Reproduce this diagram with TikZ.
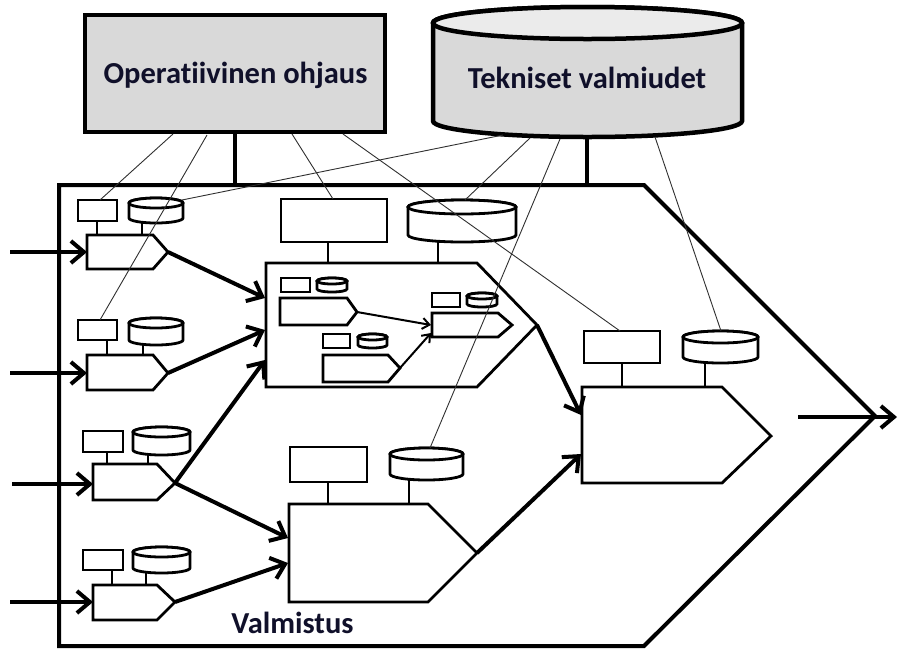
\documentclass[tikz,border=0pt]{standalone}
\usepackage{fontspec}
\setmainfont{Carlito}[Ligatures=NoCommon]
\usetikzlibrary{arrows.meta}
\definecolor{boxgray}{HTML}{D9D9D9}
\definecolor{topgray}{HTML}{EBEBEB}
\definecolor{txt}{HTML}{10102A}
\definecolor{thinc}{HTML}{303030}
\newcommand{\mkproc}[7]{% name, x1, y1, corner x, tip x, tip y, y2
  \draw[comp, fill=white] (#2,#3) -- (#4,#3) -- (#5,#6) -- (#4,#7) -- (#2,#7) -- cycle;
  \coordinate (#1-tip) at (#5,#6);}
\newcommand{\mkrect}[5]{% name, x1, y1, x2, y2
  \draw[comp, fill=white] (#2,#3) rectangle (#4,#5);}
\newcommand{\mkcyl}[6]{% name, x1, y1, x2, y2, ry
  \pgfmathsetmacro\cylrx{(#4-#2)/2}%
  \pgfmathsetmacro\cylcx{(#4+#2)/2}%
  \draw[comp, fill=white] (#2,#3+#6) -- (#2,#5-#6) arc[start angle=180,end angle=0,x radius=\cylrx,y radius=#6] -- (#4,#3+#6) arc[start angle=0,end angle=-180,x radius=\cylrx,y radius=#6] -- cycle;
  \draw[comp, fill=white] (\cylcx,#3+#6) ellipse[x radius=\cylrx,y radius=#6];}
\begin{document}
\begin{tikzpicture}[x=1pt,y=-1pt,
  frame/.style={line width=4pt, line join=miter},
  comp/.style={line width=2.8pt, line join=miter},
  bigline/.style={line width=4.5pt},
  stemline/.style={line width=2.8pt},
  thinl/.style={line width=0.9pt, draw=thinc},
  arr/.style={line width=4pt, -{Straight Barb[length=13pt,width=22pt]}},
  smallarr/.style={line width=2pt, -{Straight Barb[length=7pt,width=11pt]}},
  lbl/.style={font=\fontsize{30.5}{36}\selectfont\bfseries, text=txt, inner sep=0pt},
]
\useasboundingbox (0,0) rectangle (899,649);

% top box
\node[draw, line width=4.5pt, fill=boxgray, minimum width=300pt, minimum height=117pt, inner sep=0pt] (op) at (235,73.5) {};
\node[lbl, anchor=base] (optext) at (235.5,83) {Operatiivinen ohjaus};

% big cylinder
\draw[bigline, fill=boxgray] (433,23) -- (433,121) arc[start angle=180,end angle=0,x radius=154.5,y radius=16] -- (742,23) arc[start angle=0,end angle=-180,x radius=154.5,y radius=16] -- cycle;
\draw[bigline, fill=topgray] (587.5,23) ellipse[x radius=154.5,y radius=16];
\node[lbl, anchor=base] (tvtext) at (587,88) {Tekniset valmiudet};

% stems from top
\coordinate (op-s) at (235,134);
\coordinate (fr-s1) at (235,185);
\coordinate (tv-s) at (587,137);
\coordinate (fr-s2) at (587,185);
\draw[bigline] (op-s) -- (fr-s1);
\draw[bigline] (tv-s) -- (fr-s2);

% frame
\draw[frame, fill=white] (59,185) -- (644,185) -- (875,416) -- (644,646) -- (59,646) -- cycle;
\node[lbl, anchor=base] (valm) at (292.5,633) {Valmistus};

% unit 1
\mkrect{u1r}{78}{200}{117}{221}
\mkcyl{u1c}{129}{198}{183}{223}{5}
\draw[stemline] (97,221) -- (97,235);
\draw[stemline] (142,223) -- (142,235);
\mkproc{u1}{87}{235}{153}{168}{252}{269}
% unit 2
\mkrect{u2r}{78}{320}{117}{340}
\mkcyl{u2c}{129}{318}{183}{345}{5}
\draw[stemline] (107,340) -- (107,355);
\draw[stemline] (143,345) -- (143,355);
\mkproc{u2}{87}{355}{153}{168}{373}{390}
% unit 3
\mkrect{u3r}{83}{431}{123}{452}
\mkcyl{u3c}{133}{427}{190}{455}{5}
\draw[stemline] (107,452) -- (107,464);
\draw[stemline] (148,455) -- (148,464);
\mkproc{u3}{93}{464}{157}{175}{483}{500}
% unit 4
\mkrect{u4r}{83}{550}{123}{570}
\mkcyl{u4c}{133}{547}{190}{573}{5}
\draw[stemline] (112,570) -- (112,585);
\draw[stemline] (146,573) -- (146,585);
\mkproc{u4}{93}{585}{157}{175}{602}{620}

% middle block
\mkrect{mr}{281}{199}{387}{242}
\mkcyl{mc}{408}{200}{516}{242}{7}
\draw[stemline] (328,242) -- (328,263);
\draw[stemline] (438,242) -- (438,263);
\mkproc{mb}{266}{263}{477}{537}{325}{387}
% inner A
\mkrect{ar}{281}{278}{310}{292}
\mkcyl{ac}{317}{278}{347}{292}{3}
\mkproc{ia}{280}{298}{347}{357}{312}{325}
% inner B
\mkrect{br}{432}{293}{460}{307}
\mkcyl{bc}{467}{293}{497}{307}{3}
\mkproc{ib}{432}{313}{498}{512}{325}{337}
% inner C
\mkrect{cr}{323}{334}{350}{348}
\mkcyl{cc}{358}{334}{387}{348}{3}
\mkproc{ic}{323}{355}{388}{400}{368}{382}
\coordinate (ib-in1) at (431,325);
\coordinate (ib-in2) at (431,333);
\draw[smallarr] (ia-tip) -- (ib-in1);
\draw[smallarr] (ic-tip) -- (ib-in2);

% lower process
\mkrect{lr}{290}{447}{367}{482}
\mkcyl{lc}{390}{448}{463}{480}{6}
\draw[stemline] (328,482) -- (328,504);
\draw[stemline] (409,480) -- (409,504);
\mkproc{lp}{289}{504}{428}{477}{553}{602}

% right process
\mkrect{rr}{584}{331}{660}{363}
\mkcyl{rc}{683}{331}{758}{363}{6}
\draw[stemline] (622,363) -- (622,387);
\draw[stemline] (705,363) -- (705,387);
\mkproc{rp}{582}{387}{722}{771}{436}{483}

% thin lines
\coordinate (op-l1) at (173,134);
\coordinate (op-l2) at (207,135);
\coordinate (op-l3) at (292,134);
\coordinate (op-l4) at (343,134);
\coordinate (tv-l1) at (503,135);
\coordinate (tv-l2) at (530,138);
\coordinate (tv-l3) at (560,139);
\coordinate (tv-l4) at (655,137);
\coordinate (u1r-t) at (100,200);
\coordinate (u2r-t) at (100,320);
\coordinate (mr-t) at (333,199);
\coordinate (rr-t) at (620,331);
\coordinate (u1c-t) at (182,200);
\coordinate (mc-t) at (465,200);
\coordinate (lc-t) at (430,448);
\coordinate (rc-t) at (721,331);
\draw[thinl] (op-l1) -- (u1r-t);
\draw[thinl] (op-l2) -- (u2r-t);
\draw[thinl] (op-l3) -- (mr-t);
\draw[thinl] (op-l4) -- (rr-t);
\draw[thinl] (tv-l1) -- (u1c-t);
\draw[thinl] (tv-l2) -- (mc-t);
\draw[thinl] (tv-l3) -- (lc-t);
\draw[thinl] (tv-l4) -- (rc-t);

% input arrows
\coordinate (in1) at (10,252);
\coordinate (in2) at (10,373);
\coordinate (in3) at (12,484);
\coordinate (in4) at (10,602);
\coordinate (u1-in) at (87,252);
\coordinate (u2-in) at (87,373);
\coordinate (u3-in) at (93,484);
\coordinate (u4-in) at (93,602);
\draw[arr] (in1) -- (u1-in);
\draw[arr] (in2) -- (u2-in);
\draw[arr] (in3) -- (u3-in);
\draw[arr] (in4) -- (u4-in);

% flow arrows
\coordinate (mb-in1) at (265,298);
\coordinate (mb-in2) at (265,330);
\coordinate (mb-in3) at (265,360);
\coordinate (lp-in1) at (288,538);
\coordinate (lp-in2) at (288,563);
\coordinate (rp-in1) at (581,415);
\coordinate (rp-in2) at (581,454);
\coordinate (out-s) at (798,417);
\coordinate (out-e) at (897,417);
\draw[arr] (u1-tip) -- (mb-in1);
\draw[arr] (u2-tip) -- (mb-in2);
\draw[arr] (u3-tip) -- (mb-in3);
\draw[arr] (u3-tip) -- (lp-in1);
\draw[arr] (u4-tip) -- (lp-in2);
\draw[arr] (mb-tip) -- (rp-in1);
\draw[arr] (lp-tip) -- (rp-in2);
\draw[arr] (out-s) -- (out-e);
\end{tikzpicture}
\end{document}
